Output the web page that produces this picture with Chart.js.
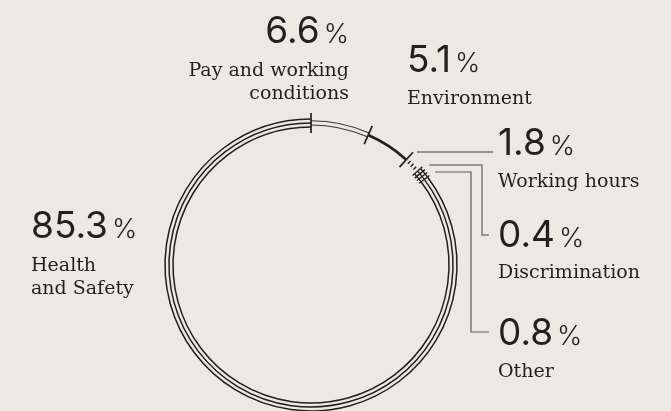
<!DOCTYPE html>
<html>
<head>
<meta charset="utf-8">
<script src="https://cdn.jsdelivr.net/npm/chart.js@4/dist/chart.umd.min.js"></script>
<style>
  html, body { margin: 0; padding: 0; background: #ece8e2; overflow: hidden; }
  #wrap { position: relative; width: 671px; height: 440px; }
</style>
</head>
<body>
<div id="wrap"><canvas id="myChart"></canvas></div>
<script>
// data
var categories = ["Pay and working\nconditions", "Environment", "Working hours", "Discrimination", "Other", "Health\nand Safety"];
var values = [6.6, 5.1, 1.8, 0.4, 0.8, 85.3];

// how each slice is drawn
var styles = ["double", "bold", "dots", "hatch", "hatch", "triple"];

// layout
var CX = 311, CY = 265, R_OUT = 152, R_IN = 132;
var INK = "#231f20";
var labelPos = [
  { x: 349, y: 43, align: "right", ly: [76, 99] },
  { x: 407, y: 72, align: "left", ly: [104] },
  { x: 498, y: 155, align: "left", ly: [187] },
  { x: 498, y: 247, align: "left", ly: [278] },
  { x: 498, y: 345, align: "left", ly: [377] },
  { x: 31, y: 238, align: "left", ly: [271, 294] }
];
var leaders = [
  { i: 2, y: 152, pts: [[493, 152]], color: "#3e3a3a", w: 1.2 },
  { i: 3, y: 165, pts: [[482, 165], [482, 235], [489, 235]], color: "#7d7877", w: 1.5 },
  { i: 4, y: 172, pts: [[471, 172], [471, 332], [489, 332]], color: "#5e5a5a", w: 1.2 }
];

function arcLine(ctx, x, y, r, a0, a1, w, color) {
  ctx.beginPath();
  ctx.arc(x, y, r, a0, a1);
  ctx.lineWidth = w;
  ctx.strokeStyle = color;
  ctx.stroke();
}

function tick(ctx, x, y, a, r0, r1, w, color) {
  ctx.beginPath();
  ctx.moveTo(x + Math.cos(a) * r0, y + Math.sin(a) * r0);
  ctx.lineTo(x + Math.cos(a) * r1, y + Math.sin(a) * r1);
  ctx.lineWidth = w;
  ctx.strokeStyle = color;
  ctx.stroke();
}

var ringPlugin = {
  id: "ring",
  afterDatasetsDraw: function (chart) {
    var ctx = chart.ctx;
    var arcs = chart.getDatasetMeta(0).data;
    ctx.save();
    ctx.lineCap = "butt";
    arcs.forEach(function (el, i) {
      var p = el.getProps(["x", "y", "startAngle", "endAngle", "innerRadius", "outerRadius"], true);
      var mid = (p.innerRadius + p.outerRadius) / 2;
      var s = styles[i];
      if (s === "double") {
        arcLine(ctx, p.x, p.y, mid + 2.3, p.startAngle, p.endAngle, 1.1, "#3a3637");
        arcLine(ctx, p.x, p.y, mid - 2.0, p.startAngle, p.endAngle, 1.1, "#3a3637");
      } else if (s === "bold") {
        arcLine(ctx, p.x, p.y, mid, p.startAngle, p.endAngle, 2.6, INK);
      } else if (s === "dots") {
        var n = 3;
        for (var k = 1; k <= n; k++) {
          var a = p.startAngle + (p.endAngle - p.startAngle) * k / (n + 1);
          tick(ctx, p.x, p.y, a, mid - 2, mid + 2, 1.4, INK);
        }
      } else if (s === "hatch") {
        for (var j = -1; j <= 1; j++) {
          arcLine(ctx, p.x, p.y, mid + j * 4, p.startAngle, p.endAngle, 1.3, INK);
        }
        var steps = Math.max(1, Math.round((p.endAngle - p.startAngle) / 0.025));
        for (var k2 = 0; k2 <= steps; k2++) {
          var a2 = p.startAngle + (p.endAngle - p.startAngle) * k2 / steps;
          tick(ctx, p.x, p.y, a2, mid - 6.5, mid + 6.5, 1.3, INK);
        }
      } else if (s === "triple") {
        for (var j2 = -1; j2 <= 1; j2++) {
          arcLine(ctx, p.x, p.y, mid + j2 * 4, p.startAngle, p.endAngle, 1.5, INK);
        }
      }
      // boundary ticks at the start of the big slices
      if (s === "double" || s === "bold" || s === "dots") {
        tick(ctx, p.x, p.y, p.startAngle, p.innerRadius, p.outerRadius, 1.7, INK);
      }
    });

    // leader lines from the ring out to the small labels
    var el0 = arcs[0];
    leaders.forEach(function (ld) {
      var r = el0.outerRadius + 3;
      var dy = ld.y - el0.y;
      var sx = el0.x + Math.sqrt(r * r - dy * dy);
      ctx.beginPath();
      ctx.moveTo(sx, ld.y);
      ld.pts.forEach(function (pt) { ctx.lineTo(pt[0], pt[1]); });
      ctx.lineWidth = ld.w;
      ctx.strokeStyle = ld.color;
      ctx.lineJoin = "miter";
      ctx.stroke();
    });

    // labels
    ctx.fillStyle = INK;
    ctx.textBaseline = "alphabetic";
    values.forEach(function (v, i) {
      var lp = labelPos[i];
      var num = v.toFixed(1);
      ctx.font = "37px Inter";
      var wNum = ctx.measureText(num).width;
      ctx.font = "300 27px Inter";
      var wPct = ctx.measureText("%").width;
      var gap = 4;
      var x0 = lp.align === "right" ? lp.x - wNum - gap - wPct : lp.x;
      ctx.textAlign = "left";
      ctx.font = "37px Inter";
      ctx.fillText(num, x0, lp.y);
      ctx.font = "300 27px Inter";
      ctx.fillText("%", x0 + wNum + gap, lp.y);

      ctx.font = "19px 'DejaVu Serif'";
      ctx.textAlign = lp.align;
      var lines = categories[i].split("\n");
      lines.forEach(function (t, k) {
        ctx.fillText(t, lp.x, lp.ly[k]);
      });
    });
    ctx.restore();
  }
};

var ctx = document.getElementById("myChart").getContext("2d");
var myChart = new Chart(ctx, {
  type: "doughnut",
  data: {
    labels: categories,
    datasets: [
      {
        data: values,
        backgroundColor: "rgba(0,0,0,0)",
        borderWidth: 0,
        hoverOffset: 0,
        offset: 0
      }
    ]
  },
  options: {
    responsive: true,
    maintainAspectRatio: false,
    animation: false,
    events: [],
    cutout: R_IN,
    layout: {
      padding: {
        left: CX - R_OUT,
        right: 671 - CX - R_OUT,
        top: CY - R_OUT,
        bottom: 440 - CY - R_OUT
      }
    },
    plugins: {
      legend: { display: false },
      tooltip: { enabled: false }
    }
  },
  plugins: [ringPlugin]
});
</script>
</body>
</html>
